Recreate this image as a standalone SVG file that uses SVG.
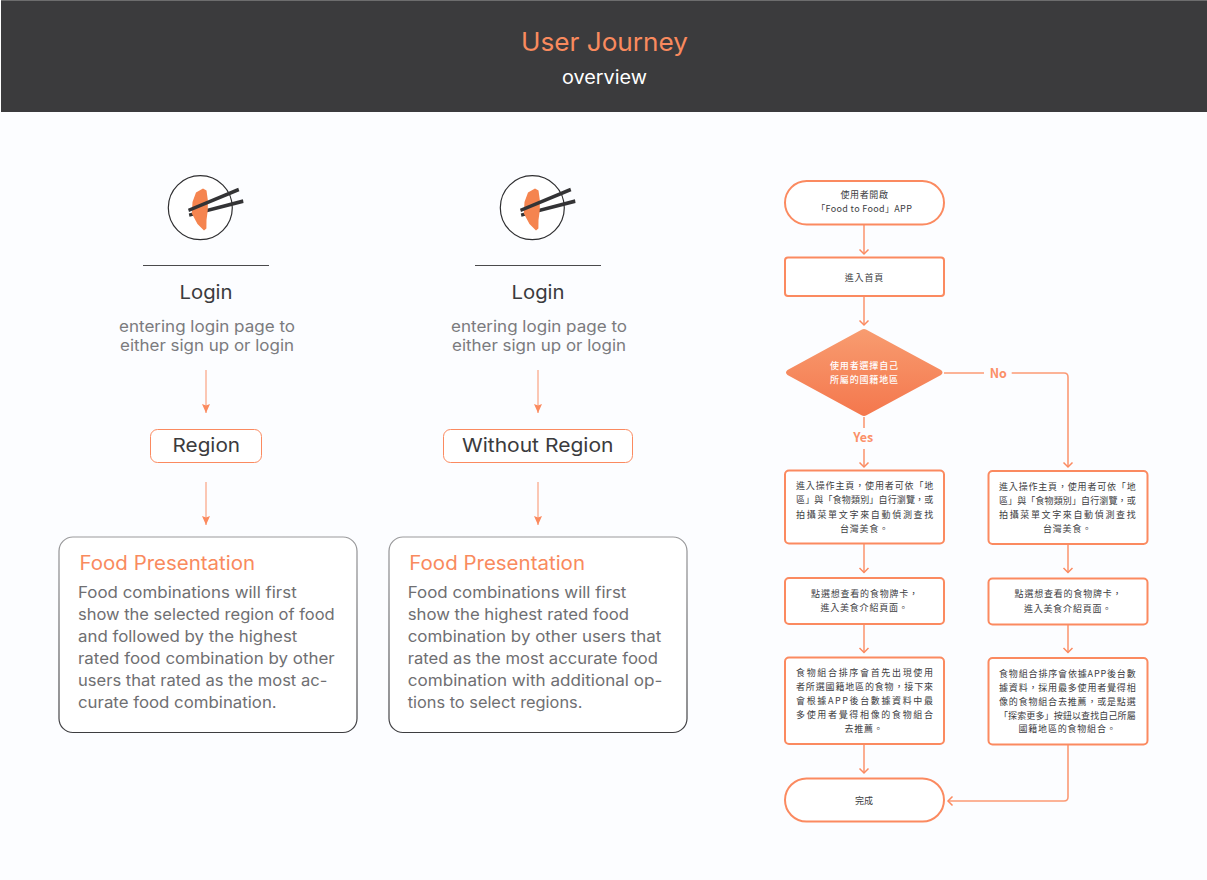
<svg xmlns="http://www.w3.org/2000/svg" width="1207" height="880" viewBox="0 0 1207 880">
<style>
.m{font-family:"Inter","Open Sans","Liberation Sans",sans-serif}
.c{font-family:"Noto Sans CJK TC","Noto Sans",sans-serif;font-size:9px;fill:#3d3d3f}
.mid{text-anchor:middle}
.body{font-size:15.6px;fill:#6f6f72}
.sub{font-size:15.6px;fill:#7b7b7e}
.ft{font-size:19.4px;fill:#f98a5e}
.h{font-size:19px;fill:#3b3b3d}
.fn{fill:#fff;stroke:#fb8a60;stroke-width:2}
.fc{fill:none;stroke:#fb9a76;stroke-width:1.6}
.sa{fill:none;stroke:#fbab8c;stroke-width:1.3}
.lab{font-family:"Noto Sans CJK TC","Noto Sans",sans-serif;font-size:12.5px;font-weight:700;fill:#fb9068}
.w{fill:#fff;font-weight:500}
</style>
<defs>
<linearGradient id="dg" x1="0" y1="0" x2="0" y2="1"><stop offset="0" stop-color="#f89c70"/><stop offset="1" stop-color="#f4774d"/></linearGradient>
<linearGradient id="bg" x1="0" y1="0" x2="0" y2="1"><stop offset="0" stop-color="#9a9a9c"/><stop offset="1" stop-color="#3d3d40"/></linearGradient>
<marker id="open" viewBox="-7 -6 9 12" refX="0" refY="0" markerWidth="9" markerHeight="12" markerUnits="userSpaceOnUse" orient="auto"><path d="M-4.500-4.500 0 0-4.500 4.500" fill="none" stroke="#fb8a60" stroke-width="1.500"/></marker>
<marker id="solid" viewBox="-9 -5 10 10" refX="0" refY="0" markerWidth="10" markerHeight="10" markerUnits="userSpaceOnUse" orient="auto"><path d="M-9-4 0 0-9 4-7.500 0Z" fill="#fb8a5e"/></marker>
<g id="logo">
<circle cx="200.300" cy="207.700" r="32" fill="#fff" stroke="#2f2f31" stroke-width="1.200"/>
<path d="M189.500 216.800 243.600 202.900 242.900 199.200 188.800 213.400Z" fill="#333335"/>
<path d="M203 188.500 206.500 190.500 207.800 200 207.800 210 206.500 220 206.400 228.500 204 230.500 197.500 224 191.800 213.500 192.500 202 196 192.500Z" fill="#f5844f"/>
<path d="M189 212 239.400 191.300 238.200 187.800 188 208.700Z" fill="#333335"/>
</g>
</defs>
<rect width="1207" height="880" fill="#fcfdff"/>
<g id="header">
<rect x="0" y="0" width="1207" height="112" fill="#fff"/>
<rect x="1" y="0" width="1206" height="112" fill="#3b3b3d"/>
<rect x="1" y="0" width="1206" height="1" fill="#6d6d6e"/>
<text class="m mid" x="604.500" y="50.500" font-size="25.500" fill="#f98a5e" textLength="167" lengthAdjust="spacingAndGlyphs">User Journey</text>
<text class="m mid" x="604.500" y="83.500" font-size="18.500" fill="#fff" textLength="85" lengthAdjust="spacingAndGlyphs">overview</text>
</g>
<g id="connectors">
<path class="sa" d="M206 370V413" marker-end="url(#solid)"/>
<path class="sa" d="M206 482V525" marker-end="url(#solid)"/>
<path class="sa" d="M538 370V413" marker-end="url(#solid)"/>
<path class="sa" d="M538 482V525" marker-end="url(#solid)"/>
<path class="fc" d="M864 224V254" marker-end="url(#open)"/>
<path class="fc" d="M864 296V325" marker-end="url(#open)"/>
<path class="fc" d="M864 417V428M864 449V467" marker-end="url(#open)"/>
<path class="fc" d="M944 373H984M1011.700 373H1064Q1068 373 1068 377V467" marker-end="url(#open)"/>
<path class="fc" d="M864 544V572.500" marker-end="url(#open)"/>
<path class="fc" d="M864 624V652.500" marker-end="url(#open)"/>
<path class="fc" d="M864 744V773" marker-end="url(#open)"/>
<path class="fc" d="M1068 544.500V572.500" marker-end="url(#open)"/>
<path class="fc" d="M1068 625V652.500" marker-end="url(#open)"/>
<path class="fc" d="M1068 745V797Q1068 801 1064 801H948" marker-end="url(#open)"/>
</g>
<g id="col1-icon"><use href="#logo"/></g>
<g id="col1-login">
<path d="M143 265.500H269" stroke="#4a4a4c" stroke-width="1"/>
<text class="m mid h" x="206" y="298.500" textLength="53" lengthAdjust="spacingAndGlyphs">Login</text>
<text class="m mid sub" x="207" y="331.500" textLength="176" lengthAdjust="spacingAndGlyphs">entering login page to</text>
<text class="m mid sub" x="207" y="350.500" textLength="174" lengthAdjust="spacingAndGlyphs">either sign up or login</text>
</g>
<g id="col1-region">
<rect x="150.500" y="429.500" width="111" height="33" rx="7" fill="#fff" stroke="#fb8a60" stroke-width="1"/>
<text class="m mid h" x="206.300" y="452" textLength="67.500" lengthAdjust="spacingAndGlyphs">Region</text>
</g>
<g id="col1-food">
<rect x="59" y="537" width="298" height="195.500" rx="14" fill="#fff" stroke="url(#bg)" stroke-width="1.200"/>
<text class="m ft" x="79.600" y="569.500" textLength="175.400" lengthAdjust="spacingAndGlyphs">Food Presentation</text>
<g class="m body">
<text x="78" y="597.700" textLength="218.700" lengthAdjust="spacingAndGlyphs">Food combinations will first</text>
<text x="78" y="619.700" textLength="256.700" lengthAdjust="spacingAndGlyphs">show the selected region of food</text>
<text x="78" y="641.700" textLength="219.300" lengthAdjust="spacingAndGlyphs">and followed by the highest</text>
<text x="78" y="663.700" textLength="256.700" lengthAdjust="spacingAndGlyphs">rated food combination by other</text>
<text x="78" y="685.700" textLength="249.300" lengthAdjust="spacingAndGlyphs">users that rated as the most ac-</text>
<text x="78" y="707.700" textLength="198.700" lengthAdjust="spacingAndGlyphs">curate food combination.</text>
</g>
</g>
<g id="col2-icon"><use href="#logo" x="332"/></g>
<g id="col2-login">
<path d="M475 265.500H601" stroke="#4a4a4c" stroke-width="1"/>
<text class="m mid h" x="538" y="298.500" textLength="53" lengthAdjust="spacingAndGlyphs">Login</text>
<text class="m mid sub" x="539" y="331.500" textLength="176" lengthAdjust="spacingAndGlyphs">entering login page to</text>
<text class="m mid sub" x="539" y="350.500" textLength="174" lengthAdjust="spacingAndGlyphs">either sign up or login</text>
</g>
<g id="col2-region">
<rect x="443.500" y="429.500" width="189" height="33" rx="7" fill="#fff" stroke="#fb8a60" stroke-width="1"/>
<text class="m mid h" x="537.700" y="452" textLength="151.500" lengthAdjust="spacingAndGlyphs">Without Region</text>
</g>
<g id="col2-food">
<rect x="389" y="537" width="298" height="195.500" rx="14" fill="#fff" stroke="url(#bg)" stroke-width="1.200"/>
<text class="m ft" x="409.300" y="569.500" textLength="175.700" lengthAdjust="spacingAndGlyphs">Food Presentation</text>
<g class="m body">
<text x="407.700" y="597.700" textLength="218.700" lengthAdjust="spacingAndGlyphs">Food combinations will first</text>
<text x="407.700" y="619.700" textLength="221.300" lengthAdjust="spacingAndGlyphs">show the highest rated food</text>
<text x="407.700" y="641.700" textLength="253.700" lengthAdjust="spacingAndGlyphs">combination by other users that</text>
<text x="407.700" y="663.700" textLength="250.300" lengthAdjust="spacingAndGlyphs">rated as the most accurate food</text>
<text x="407.700" y="685.700" textLength="254.700" lengthAdjust="spacingAndGlyphs">combination with additional op-</text>
<text x="407.700" y="707.700" textLength="174.700" lengthAdjust="spacingAndGlyphs">tions to select regions.</text>
</g>
</g>
<g id="n-start">
<rect class="fn" x="785" y="181" width="159" height="43.500" rx="21.700"/>
<text class="c mid" x="864.500" y="197.700" letter-spacing="0.600">使用者開啟</text>
<text class="c mid" x="864" y="211.500" textLength="95.700">「Food to Food」APP</text>
</g>
<g id="n-home">
<rect class="fn" x="785" y="257.500" width="159" height="38.500" rx="3"/>
<text class="c mid" x="864" y="281" textLength="38.600">進入首頁</text>
</g>
<g id="n-decision">
<path d="M861.500 329.700Q864 328.300 866.500 329.700L941 370Q944 372.500 941 375L866.500 415.300Q864 416.700 861.500 415.300L787.500 375Q784.500 372.500 787.500 370Z" fill="url(#dg)"/>
<text class="c w mid" x="864" y="369.200" textLength="68">使用者選擇自己</text>
<text class="c w mid" x="864" y="383" textLength="68">所屬的國籍地區</text>
</g>
<text class="lab mid" id="label-yes" x="863.300" y="441.500">Yes</text>
<text class="lab mid" id="label-no" x="998.300" y="377.500">No</text>
<g id="n-l1">
<rect class="fn" x="785" y="470.500" width="159" height="73" rx="4"/>
<text class="c" x="796" y="489.300" textLength="137.300">進入操作主頁，使用者可依「地</text>
<text class="c" x="796" y="503.300" textLength="137.300">區」與「食物類別」自行瀏覽，或</text>
<text class="c" x="796" y="517.800" textLength="137.300">拍攝菜單文字來自動偵測查找</text>
<text class="c mid" x="864.500" y="531.500" letter-spacing="0.800">台灣美食。</text>
</g>
<g id="n-r1">
<rect class="fn" x="988.500" y="471" width="159" height="73" rx="4"/>
<text class="c" x="999" y="489.800" textLength="136.700">進入操作主頁，使用者可依「地</text>
<text class="c" x="999" y="503.800" textLength="136.700">區」與「食物類別」自行瀏覽，或</text>
<text class="c" x="999" y="518.300" textLength="136.700">拍攝菜單文字來自動偵測查找</text>
<text class="c mid" x="1067.500" y="532" letter-spacing="0.800">台灣美食。</text>
</g>
<g id="n-l2">
<rect class="fn" x="785" y="578" width="159" height="46" rx="4"/>
<text class="c mid" x="865" y="596.800" letter-spacing="0.800">點選想查看的食物牌卡，</text>
<text class="c mid" x="864.500" y="611" letter-spacing="0.800">進入美食介紹頁面。</text>
</g>
<g id="n-r2">
<rect class="fn" x="988.500" y="578.500" width="159" height="46" rx="4"/>
<text class="c mid" x="1068.500" y="597.300" letter-spacing="0.800">點選想查看的食物牌卡，</text>
<text class="c mid" x="1068" y="611.500" letter-spacing="0.800">進入美食介紹頁面。</text>
</g>
<g id="n-l3">
<rect class="fn" x="785" y="657.500" width="159" height="86.500" rx="4"/>
<text class="c" x="796" y="676" textLength="137">食物組合排序會首先出現使用</text>
<text class="c" x="796" y="690" textLength="137">者所選國籍地區的食物，接下來</text>
<text class="c" x="796" y="704" textLength="137">會根據APP後台數據資料中最</text>
<text class="c" x="796" y="718" textLength="137">多使用者覺得相像的食物組合</text>
<text class="c mid" x="864" y="731.500" letter-spacing="0.800">去推薦。</text>
</g>
<g id="n-r3">
<rect class="fn" x="988.500" y="658" width="159" height="86.500" rx="4"/>
<text class="c" x="999" y="676.500" textLength="136.700">食物組合排序會依據APP後台數</text>
<text class="c" x="999" y="690.500" textLength="136.700">據資料，採用最多使用者覺得相</text>
<text class="c" x="999" y="704.500" textLength="136.700">像的食物組合去推薦，或是點選</text>
<text class="c" x="999" y="718.500" textLength="136.700">「探索更多」按鈕以查找自己所屬</text>
<text class="c mid" x="1067.500" y="732" letter-spacing="0.800">國籍地區的食物組合。</text>
</g>
<g id="n-end">
<rect class="fn" x="785" y="778.500" width="159" height="43" rx="21.500"/>
<text class="c mid" x="864" y="803.800">完成</text>
</g>
</svg>
